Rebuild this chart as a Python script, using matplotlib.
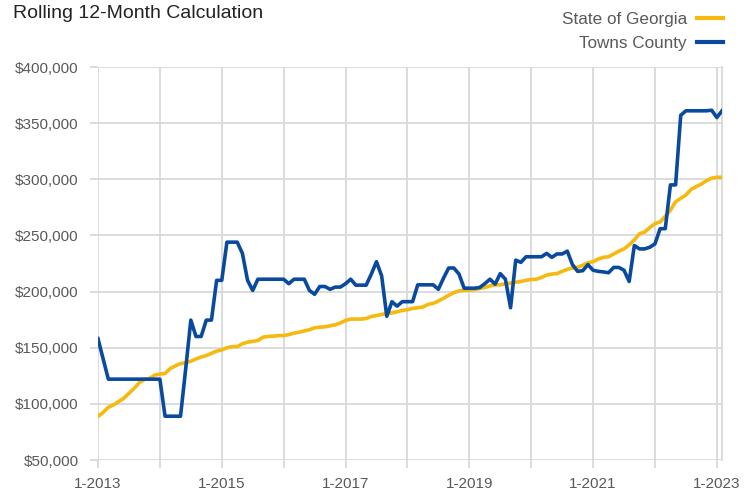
import numpy as np
import matplotlib
matplotlib.use("Agg")
import matplotlib.pyplot as plt
from matplotlib.ticker import FuncFormatter

plt.rcParams["font.family"] = ["Liberation Sans Narrow", "Liberation Sans", "DejaVu Sans"]

# monthly rolling values, Jan 2013 .. Feb 2023
georgia = [
    88800, 92400, 97000, 99000, 102000, 105000, 109400, 113800, 118800, 121800,
    122600, 125600, 126500, 127000, 131500, 133800, 135900, 136500, 138000, 140000,
    141700, 143000, 145000, 147000, 148000, 150000, 151000, 151000, 153500, 155000,
    155600, 156400, 159400, 160000, 160300, 160800, 160800, 161700, 163000, 163800,
    165000, 166000, 167700, 168300, 168600, 169500, 170400, 172000, 174300, 175500,
    175500, 175500, 176000, 177800, 178700, 179600, 180500, 181000, 182000, 183200,
    183800, 185000, 185600, 186200, 188600, 189500, 191600, 194000, 196700, 199000,
    200600, 201200, 201200, 201800, 202700, 203600, 205000, 206000, 206000, 207000,
    207500, 208300, 209000, 210000, 210800, 211000, 212600, 214700, 215600, 216000,
    218000, 219800, 221000, 221600, 223400, 225700, 226600, 229000, 230500, 231000,
    233500, 236000, 238000, 241600, 246000, 251500, 253000, 257000, 260500, 262000,
    267000, 272500, 280000, 283000, 286000, 291000, 293400, 295800, 298800, 301000,
    301800, 301800,
]

towns = [
    158000, 140000, 122000, 122000, 122000, 122000, 122000, 122000, 122000, 122000,
    122000, 122000, 122000, 89000, 89000, 89000, 89000, 131000, 174600, 160000,
    160000, 174600, 174600, 210000, 210000, 244000, 244000, 244000, 234000, 210000,
    201000, 211000, 211000, 211000, 211000, 211000, 211000, 207000, 211000, 211000,
    211000, 201000, 197600, 204500, 204500, 202000, 204000, 204000, 207000, 211000,
    205700, 205700, 205700, 215600, 226600, 214000, 178000, 191000, 187000, 191000,
    191000, 191000, 206000, 206000, 206000, 206000, 202000, 212000, 221000, 221000,
    215600, 203000, 203000, 203000, 203600, 207000, 211000, 206600, 216000, 211000,
    185600, 228000, 226000, 231000, 231000, 231000, 231000, 234000, 230500, 233500,
    233500, 236000, 224000, 218000, 218600, 224000, 219000, 218000, 217500, 216800,
    221500, 221500, 219000, 209000, 241000, 238000, 238000, 239500, 242500, 256000,
    256000, 295000, 295000, 357000, 361000, 361000, 361000, 361000, 361000, 361500,
    355000, 361000,
]

year_ticks = list(range(0, 121, 12))
year_labels = ["1-2013", "", "1-2015", "", "1-2017", "", "1-2019", "", "1-2021", "", "1-2023"]

months = np.arange(len(georgia))

fig = plt.figure(figsize=(7.53, 4.93), dpi=100)
ax = fig.add_axes([98 / 753, 1 - 460 / 493, 624 / 753, 393 / 493])

grid_col = "#d9d9d9"
text_col = "#595959"

ax.plot(months, georgia, color="#F6B90F", linewidth=2.6, label="State of Georgia",
        solid_joinstyle="round", zorder=3)
ax.plot(months, towns, color="#0A4A9E", linewidth=2.6, label="Towns County",
        solid_joinstyle="round", zorder=4)

ax.set_xlim(0, len(georgia) - 1)
ax.set_ylim(50000, 400000)
ax.set_yticks(np.arange(50000, 400001, 50000))
ax.yaxis.set_major_formatter(FuncFormatter(lambda v, p: f"${v:,.0f}"))
ax.set_xticks(year_ticks)
ax.set_xticklabels(year_labels)

ax.grid(True, color=grid_col, linewidth=1.3)
ax.set_axisbelow(True)
for side in ["top", "left", "bottom"]:
    ax.spines[side].set_visible(False)
ax.spines["right"].set_color(grid_col)
ax.spines["right"].set_linewidth(1.3)

ax.tick_params(axis="both", colors=grid_col, width=1.3, length=6,
               labelcolor=text_col, labelsize=11)
ax.tick_params(axis="y", pad=8)
ax.tick_params(axis="x", pad=6)

fig.text(13 / 753, 1 - 13 / 493, "Rolling 12-Month Calculation", fontsize=14,
         color="#222222", va="center", ha="left")

leg = fig.legend(loc="upper right", bbox_to_anchor=(738 / 753, 1 + 3 / 493),
                 frameon=False, fontsize=12.3, markerfirst=False, handlelength=1.5,
                 handletextpad=0.6, labelspacing=0.5)
for t in leg.get_texts():
    t.set_color(text_col)
for h in leg.get_lines():
    h.set_linewidth(3)

fig.savefig("out.png", dpi=100)
